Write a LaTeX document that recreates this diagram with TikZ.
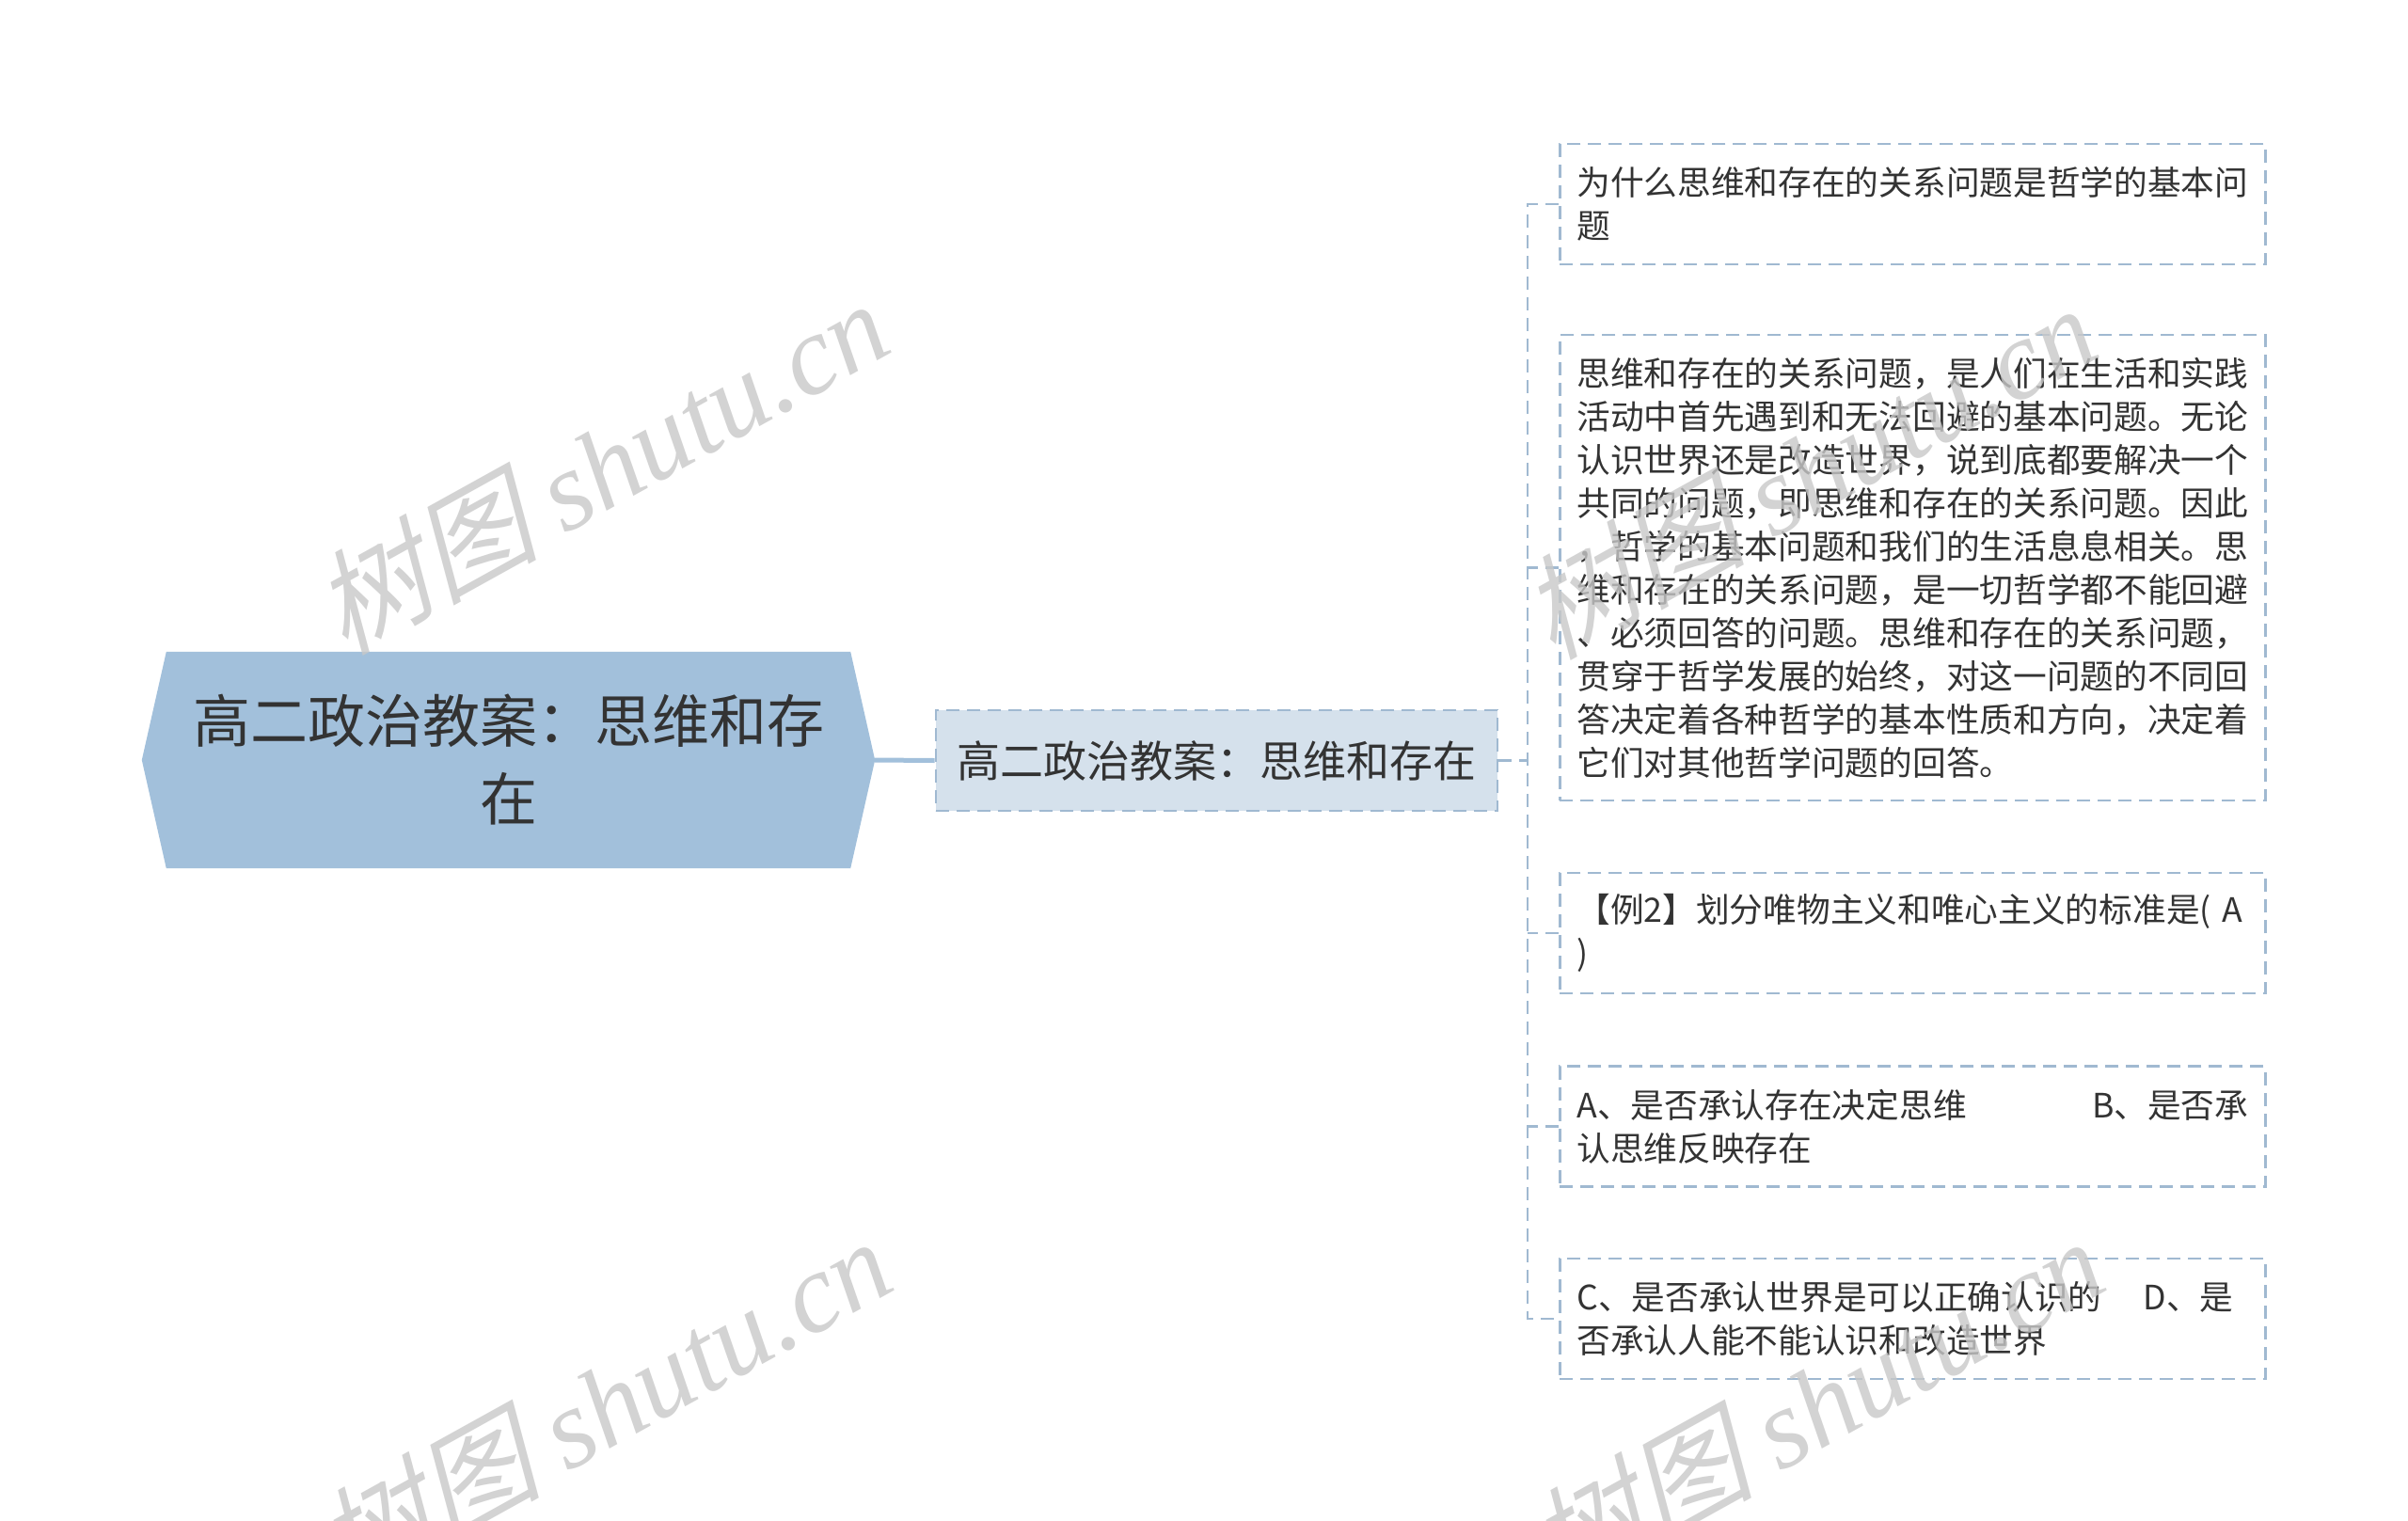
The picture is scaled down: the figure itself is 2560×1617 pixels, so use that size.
\documentclass[tikz,border=0pt]{standalone}
\usepackage{fontspec}
\setmainfont{Noto Sans CJK SC}
\newfontfamily\wmlatin{Liberation Serif}
\newfontfamily\wmcjk[FakeSlant=0.25]{Noto Sans CJK SC}
\usetikzlibrary{backgrounds}
\definecolor{rootfill}{HTML}{A2C0DB}
\definecolor{childfill}{HTML}{D5E1EC}
\definecolor{lineblue}{HTML}{A0B9D1}
\definecolor{txt}{HTML}{333333}
\definecolor{wm}{HTML}{C8C8C8}
\begin{document}
\begin{tikzpicture}[x=1pt,y=1pt,
  rootbox/.style={minimum width=727pt, minimum height=230pt, inner sep=0pt, align=center, text=txt, font=\fontsize{61pt}{83pt}\selectfont},
  childbox/.style={draw=lineblue, line width=2.7pt, dash pattern=on 14pt off 8pt, fill=childfill, minimum width=597pt, minimum height=107pt, inner sep=0pt, text=txt, font=\fontsize{46pt}{55pt}\selectfont},
  leafbox/.style={draw=lineblue, line width=2.7pt, dash pattern=on 14pt off 8pt, fill=white, text width=714pt, inner xsep=18pt, inner ysep=0pt, minimum height=128pt, align=left, anchor=west, text=txt, font=\fontsize{35.7pt}{46pt}\selectfont},
  conn/.style={draw=lineblue, line width=2.7pt, dash pattern=on 14pt off 8pt},
  rootconn/.style={draw=rootfill, line width=5pt},
  wmark/.style={text=wm, opacity=0.8, rotate=29, anchor=base, inner sep=0pt, font=\fontsize{120pt}{120pt}\selectfont}]
\useasboundingbox (0,0) rectangle (2560,-1617);

\node[rootbox] (root) at (540.5,-808) {高二政治教案：思维和存\\在};
\node[childbox] (child) at (1293.5,-808.5) {高二政治教案：思维和存在};

\node[leafbox] (leaf1) at (1657,-217) {为什么思维和存在的关系问题是哲学的基本问\\题};
\node[leafbox, minimum height=495pt] (leaf2) at (1657,-603.5) {思维和存在的关系问题，是人们在生活和实践\\活动中首先遇到和无法回避的基本问题。无论\\认识世界还是改造世界，说到底都要解决一个\\共同的问题，即思维和存在的关系问题。因此\\，哲学的基本问题和我们的生活息息相关。思\\维和存在的关系问题，是一切哲学都不能回避\\、必须回答的问题。思维和存在的关系问题，\\贯穿于哲学发展的始终，对这一问题的不同回\\答决定着各种哲学的基本性质和方向，决定着\\它们对其他哲学问题的回答。};
\node[leafbox] (leaf3) at (1657,-992) {【例2】划分唯物主义和唯心主义的标准是( A\\)};
\node[leafbox] (leaf4) at (1657,-1197.5) {A、是否承认存在决定思维\hfill B、是否承\\认思维反映存在};
\node[leafbox] (leaf5) at (1657,-1402) {C、是否承认世界是可以正确认识的\hspace*{44pt}D、是\\否承认人能不能认识和改造世界};

\coordinate (roottip) at ([xshift=26pt]root.east);
\coordinate (sp1) at ([xshift=-33pt]leaf1.west);
\coordinate (sp5) at ([xshift=-33pt]leaf5.west);

\begin{scope}[on background layer]
  \fill[white] (0,0) rectangle (2560,-1617);
  \fill[rootfill] ([xshift=-26pt]root.west) -- (root.north west) -- (root.north east)
     -- (roottip) -- (root.south east) -- (root.south west) -- cycle;
  \draw[rootconn] (roottip) -- (child.west);
  \draw[conn] (leaf1.west) -- (sp1) -- (sp5) -- (leaf5.west);
  \draw[conn] (child.east) -- (child.east -| sp1);
  \draw[conn] (leaf2.west) -- (leaf2.west -| sp1);
  \draw[conn] (leaf3.west) -- (leaf3.west -| sp1);
  \draw[conn] (leaf4.west) -- (leaf4.west -| sp1);
\end{scope}

\node[wmark] (wm1) at (660,-535) {\wmcjk 树图 \wmlatin\itshape shutu.cn};
\node[wmark] (wm2) at (1944,-540) {\wmcjk 树图 \wmlatin\itshape shutu.cn};
\node[wmark] (wm3) at (663,-1532) {\wmcjk 树图 \wmlatin\itshape shutu.cn};
\node[wmark] (wm4) at (1952,-1532) {\wmcjk 树图 \wmlatin\itshape shutu.cn};
\end{tikzpicture}
\end{document}
